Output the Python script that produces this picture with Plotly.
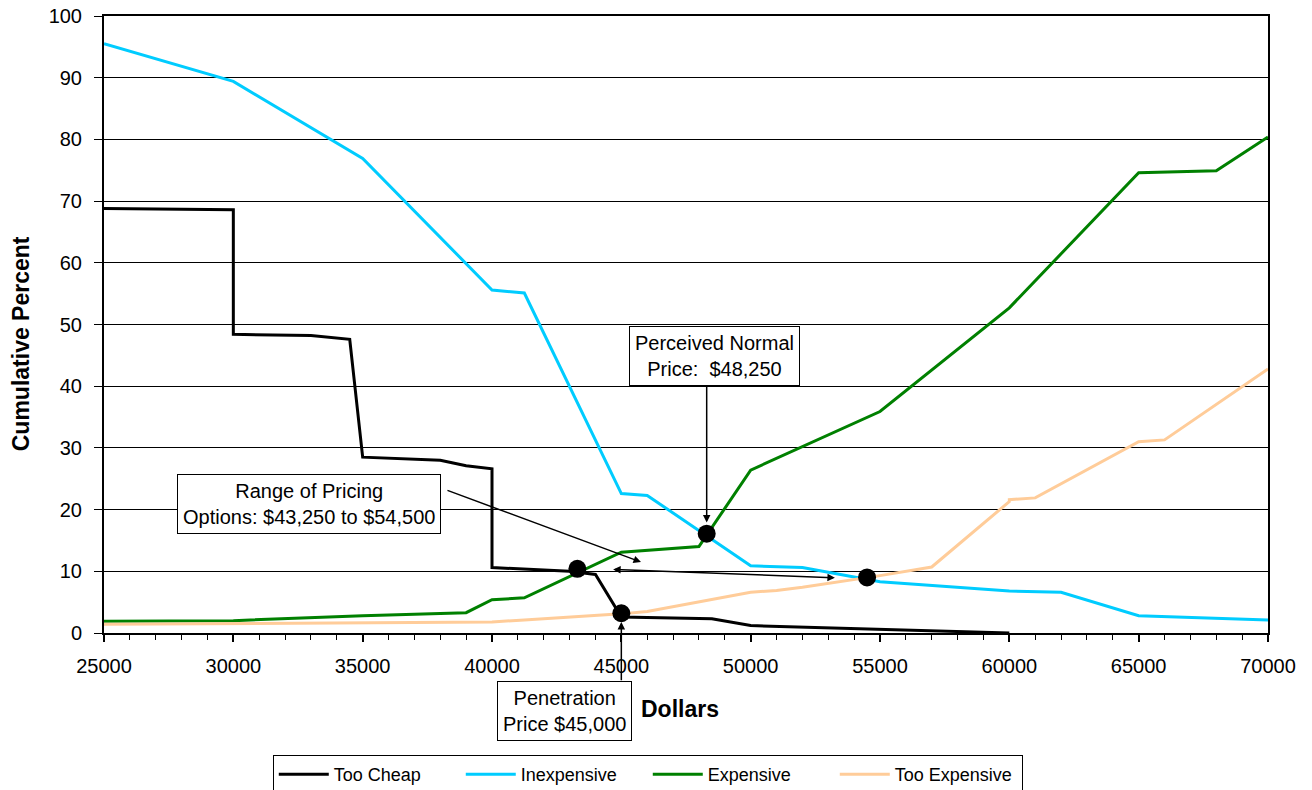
import plotly.graph_objects as go

# ---- data ----
too_cheap_x = [25000, 30000, 30000, 33000, 34500, 35000, 38000, 39000, 40000, 40000, 43000, 44000, 45000, 48500, 50000, 55000, 60000]
too_cheap_y = [68.8, 68.6, 48.4, 48.2, 47.6, 28.5, 28.0, 27.1, 26.6, 10.6, 10.0, 9.5, 2.6, 2.3, 1.2, 0.6, 0.0]

inexpensive_x = [25000, 30000, 35000, 40000, 41250, 45000, 46000, 50000, 52000, 55000, 60000, 62000, 65000, 70000]
inexpensive_y = [95.5, 89.4, 76.9, 55.6, 55.1, 22.6, 22.3, 10.9, 10.6, 8.3, 6.8, 6.6, 2.8, 2.1]

expensive_x = [25000, 30000, 35000, 39000, 40000, 41250, 45000, 48000, 50000, 55000, 60000, 65000, 68000, 70000]
expensive_y = [1.9, 2.0, 2.8, 3.3, 5.4, 5.7, 13.1, 14.0, 26.4, 35.9, 52.7, 74.6, 74.9, 80.4]

too_exp_x = [25000, 30000, 40000, 41250, 45000, 46000, 50000, 51000, 52000, 55000, 57000, 60000, 60000, 61000, 65000, 66000, 70000]
too_exp_y = [1.4, 1.5, 1.8, 2.1, 3.1, 3.5, 6.6, 6.9, 7.4, 9.3, 10.7, 21.3, 21.6, 21.9, 31.0, 31.3, 42.8]

key_x = [43300, 45000, 48300, 54500]
key_y = [10.4, 3.2, 16.1, 9.0]

x_ticks = [25000, 30000, 35000, 40000, 45000, 50000, 55000, 60000, 65000, 70000]
y_ticks = [0, 10, 20, 30, 40, 50, 60, 70, 80, 90, 100]

FONT = "Liberation Sans, Arial, sans-serif"

fig = go.Figure()
series = [
    ("Too Cheap", too_cheap_x, too_cheap_y, "#000000"),
    ("Inexpensive", inexpensive_x, inexpensive_y, "#00CCFF"),
    ("Expensive", expensive_x, expensive_y, "#008000"),
    ("Too Expensive", too_exp_x, too_exp_y, "#FFCC99"),
]
for name, xs, ys, col in series:
    fig.add_trace(go.Scatter(x=xs, y=ys, mode="lines", name=name,
                             line=dict(color=col, width=3)))

fig.add_trace(go.Scatter(x=key_x, y=key_y, mode="markers", showlegend=False,
                         marker=dict(color="black", size=18)))

annotations = []
box = dict(showarrow=False, bordercolor="black", borderwidth=1, borderpad=5,
           bgcolor="white", font=dict(family=FONT, size=20, color="black"))
annotations.append(dict(text="Perceived Normal<br>Price:  $48,250", xref="paper", yref="paper",
                        x=0.5245, y=0.449, xanchor="center", yanchor="middle", **box))
annotations.append(dict(text="Range of Pricing<br>Options: $43,250 to $54,500", xref="paper", yref="paper",
                        x=0.1757, y=0.2083, xanchor="center", yanchor="middle", **box))
annotations.append(dict(text="Penetration<br>Price $45,000", xref="paper", yref="paper",
                        x=0.3952, y=-0.1264, xanchor="center", yanchor="middle", **box))

arrow = dict(text="", showarrow=True, arrowhead=2, arrowsize=1, arrowwidth=1.5,
             arrowcolor="black", axref="x", ayref="y", xref="x", yref="y")
# perceived normal arrow
annotations.append(dict(x=48300, y=17.9, ax=48300, ay=40.4, **arrow))
# range diagonal arrow
annotations.append(dict(x=45760, y=11.5, ax=38220, ay=23.2, **arrow))
# range double arrow
annotations.append(dict(x=53257, y=8.96, ax=44625, ay=10.3, arrowside="end+start", **arrow))
# penetration arrow
annotations.append(dict(x=45000, y=1.8, ax=45000, ay=-7.9, **arrow))

# axis titles
annotations.append(dict(text="<b>Dollars</b>", xref="paper", yref="paper", x=0.4948, y=-0.123,
                        showarrow=False, xanchor="center", yanchor="middle",
                        font=dict(family=FONT, size=23, color="black")))
annotations.append(dict(text="<b>Cumulative Percent</b>", xref="paper", yref="paper", x=-0.0713, y=0.468,
                        showarrow=False, xanchor="center", yanchor="middle", textangle=-90,
                        font=dict(family=FONT, size=23, color="black")))

fig.update_layout(
    width=1312, height=790,
    margin=dict(l=104, r=44, t=16, b=157, autoexpand=False),
    paper_bgcolor="white", plot_bgcolor="white",
    font=dict(family=FONT, size=20, color="black"),
    annotations=annotations,
    showlegend=True,
    legend=dict(orientation="h", x=0.145, y=-0.1977, xanchor="left", yanchor="top",
                bordercolor="black", borderwidth=1, font=dict(family=FONT, size=18),
                entrywidth=122, itemwidth=50, tracegroupgap=0),
)
fig.update_xaxes(range=[25000, 70000], tickvals=x_ticks, ticktext=[str(v) for v in x_ticks],
                 showgrid=False, zeroline=False, showline=True, linecolor="black", linewidth=2,
                 mirror=True, ticks="outside", ticklen=7, tickcolor="black", tickwidth=2,
                 ticklabelstandoff=7, automargin=False,
                 minor=dict(dtick=1000, ticks="outside", ticklen=5, tickcolor="black", tickwidth=1))
fig.update_yaxes(range=[0, 100], tickvals=y_ticks, showgrid=True, gridcolor="black", gridwidth=1,
                 zeroline=False, showline=True, linecolor="black", linewidth=2, mirror=True,
                 ticks="outside", ticklen=8, tickcolor="black", tickwidth=1, ticklabelstandoff=8,
                 automargin=False)

fig.write_html("out.html")
